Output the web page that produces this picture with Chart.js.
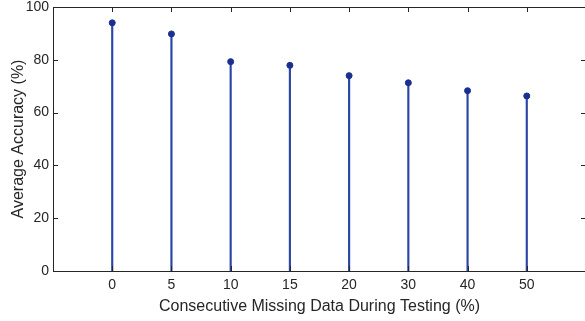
<!DOCTYPE html>
<html>
<head>
<meta charset="utf-8">
<script src="https://cdn.jsdelivr.net/npm/chart.js@4"></script>
<style>
  html, body { margin: 0; padding: 0; background: #fff; overflow: hidden; }
  #wrap { width: 590px; height: 321px; position: relative; }
</style>
</head>
<body>
<div id="wrap"><canvas id="stemChart"></canvas></div>
<script>
// categories on the x axis (evenly spaced)
const missingPct = ['0', '5', '10', '15', '20', '30', '40', '50'];
// average accuracy (%)
const accuracy = [94.0, 89.8, 79.3, 77.9, 74.0, 71.3, 68.3, 66.3];
const yTicks = [0, 20, 40, 60, 80, 100];

const stemColor = '#2b45a6';
const markColor = '#1a2f8f';
const axisColor = '#262626';
const family = "'Liberation Sans', Arial, Helvetica, sans-serif";

const points = accuracy.map((v, i) => ({ x: i, y: v }));

// MATLAB-style box with inward ticks
const boxTicks = {
    id: 'boxTicks',
    afterDraw(chart) {
        const { ctx, chartArea: a, scales: { x, y } } = chart;
        ctx.save();
        ctx.strokeStyle = axisColor;
        ctx.lineWidth = 1;
        ctx.beginPath();
        ctx.rect(a.left + 0.5, a.top + 0.5, a.right - a.left, a.bottom - a.top);
        ctx.stroke();
        ctx.beginPath();
        yTicks.forEach(v => {
            const py = Math.round(y.getPixelForValue(v)) + 0.5;
            ctx.moveTo(a.left, py); ctx.lineTo(a.left + 5, py);
            ctx.moveTo(a.right, py); ctx.lineTo(a.right - 5, py);
        });
        missingPct.forEach((_, i) => {
            const px = Math.round(x.getPixelForValue(i)) + 0.5;
            ctx.moveTo(px, a.top); ctx.lineTo(px, a.top + 5);
            ctx.moveTo(px, a.bottom); ctx.lineTo(px, a.bottom - 5);
        });
        ctx.stroke();
        ctx.restore();
    }
};

new Chart(document.getElementById('stemChart'), {
    type: 'bar',
    data: {
        datasets: [
            {
                type: 'scatter',
                data: points,
                backgroundColor: markColor,
                borderColor: markColor,
                pointRadius: 3,
                pointHoverRadius: 3,
                order: 0
            },
            {
                type: 'bar',
                data: points,
                backgroundColor: stemColor,
                barThickness: 1.5,
                order: 1
            }
        ]
    },
    options: {
        responsive: true,
        maintainAspectRatio: false,
        animation: false,
        layout: { padding: { top: 7, right: 2, left: 0, bottom: 0 } },
        plugins: { legend: { display: false }, tooltip: { enabled: false } },
        scales: {
            x: {
                type: 'linear',
                offset: false,
                min: -1,
                max: 8,
                grid: { display: false, offset: false, tickLength: 0 },
                border: { display: false },
                afterBuildTicks: s => { s.ticks = missingPct.map((_, i) => ({ value: i })); },
                afterFit: s => { s.height = 50; s.paddingLeft = 0; s.paddingRight = 0; },
                ticks: {
                    color: axisColor,
                    font: { family, size: 14 },
                    padding: 6,
                    maxRotation: 0,
                    callback: v => missingPct[v]
                },
                title: {
                    display: true,
                    text: 'Consecutive Missing Data During Testing (%)',
                    color: axisColor,
                    font: { family, size: 16 },
                    padding: { top: 0, bottom: 5 }
                }
            },
            y: {
                min: 0,
                max: 100,
                grid: { display: false, tickLength: 0 },
                border: { display: false },
                afterBuildTicks: s => { s.ticks = yTicks.map(v => ({ value: v })); },
                afterFit: s => { s.width = 53; s.paddingTop = 0; s.paddingBottom = 0; },
                ticks: { color: axisColor, font: { family, size: 14 }, padding: 4 },
                title: {
                    display: true,
                    text: 'Average Accuracy (%)',
                    color: axisColor,
                    font: { family, size: 16 },
                    padding: { top: 9, bottom: 0 }
                }
            }
        }
    },
    plugins: [boxTicks]
});
</script>
</body>
</html>
